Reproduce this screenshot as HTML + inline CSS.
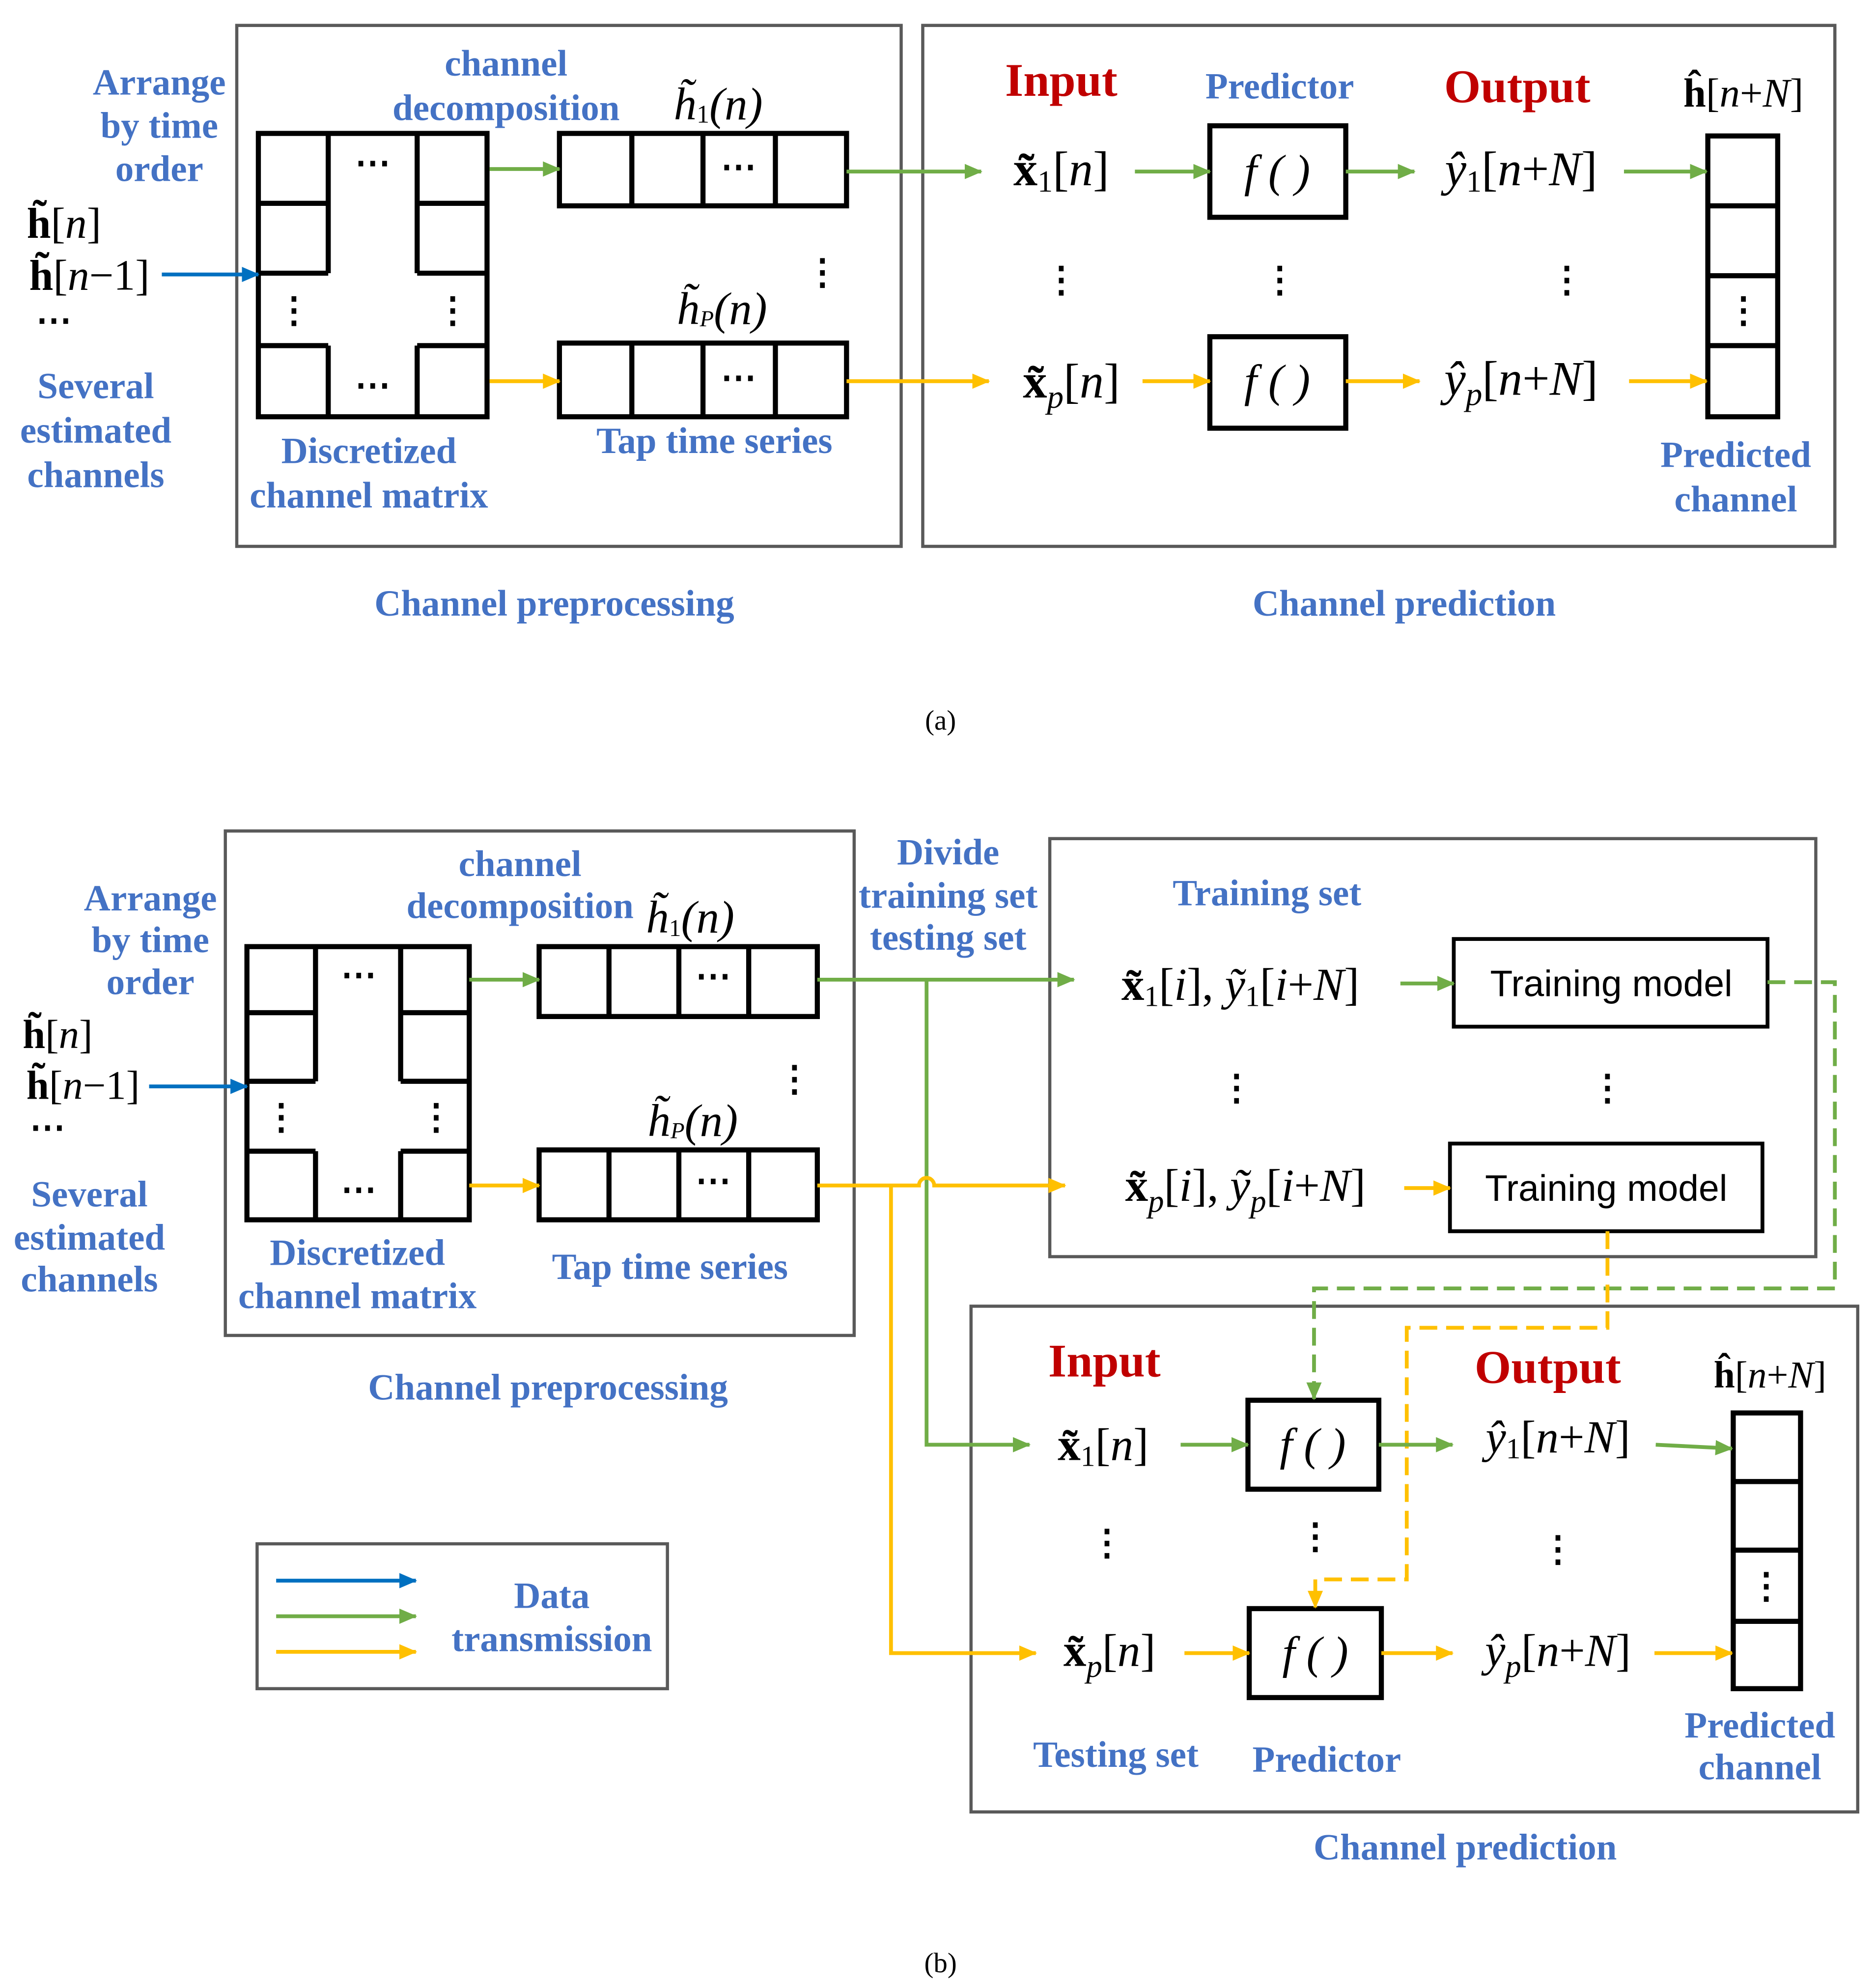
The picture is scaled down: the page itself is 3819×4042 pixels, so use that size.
<!DOCTYPE html>
<html><head><meta charset="utf-8">
<style>
html,body{margin:0;padding:0;background:#fff;}
svg{display:block;}
.b{font-family:"Liberation Serif",serif;font-weight:bold;fill:#4472C4;font-size:29px;}
.r{font-family:"Liberation Serif",serif;font-weight:bold;fill:#C00000;font-size:37px;}
.m{font-family:"Liberation Serif",serif;font-style:italic;fill:#000;font-size:36px;}
.n{font-family:"Liberation Serif",serif;fill:#000;}
.k{font-family:"Liberation Serif",serif;font-weight:bold;fill:#000;}
.t{font-family:"Liberation Sans",sans-serif;fill:#000;font-size:29px;}
</style></head><body>
<svg width="3819" height="4042" viewBox="0 0 1476 1563" xmlns="http://www.w3.org/2000/svg">
<defs>
<marker id="ag" markerWidth="14" markerHeight="12" refX="13" refY="6" orient="auto" markerUnits="userSpaceOnUse"><path d="M0,0 L14,6 L0,12 z" fill="#70AD47"/></marker>
<marker id="ay" markerWidth="14" markerHeight="12" refX="13" refY="6" orient="auto" markerUnits="userSpaceOnUse"><path d="M0,0 L14,6 L0,12 z" fill="#FFC000"/></marker>
<marker id="ab" markerWidth="14" markerHeight="12" refX="13" refY="6" orient="auto" markerUnits="userSpaceOnUse"><path d="M0,0 L14,6 L0,12 z" fill="#0070C0"/></marker>
</defs>
<g text-anchor="middle" dominant-baseline="central">
<!-- ================= (a) ================= -->
<rect x="186" y="20" width="523" height="410" fill="none" stroke="#595959" stroke-width="2.5"/>
<rect x="726" y="20" width="718" height="410" fill="none" stroke="#595959" stroke-width="2.5"/>
<g stroke="#000" stroke-width="4" fill="none">
<rect x="203" y="105" width="180" height="223"/>
<path d="M258 105V215M328 105V215M258 272V328M328 272V328M203 160H258M328 160H383M203 215H258M328 215H383M203 272H258M328 272H383"/>
<rect x="440" y="105" width="226" height="57"/>
<path d="M497 105V162M553 105V162M610 105V162"/>
<rect x="440" y="270" width="226" height="58"/>
<path d="M497 270V328M553 270V328M610 270V328"/>
<rect x="952" y="99" width="107" height="72"/>
<rect x="952" y="265" width="107" height="72"/>
<rect x="1344" y="107" width="55" height="221"/>
<path d="M1344 162H1399M1344 217H1399M1344 272H1399"/>
</g>
<g class="k" font-size="28">
<text x="293" y="128">⋯</text><text x="293" y="303">⋯</text>
<text x="581" y="131">⋯</text><text x="581" y="297">⋯</text>
<text x="231" y="244">⋮</text><text x="356" y="244">⋮</text>
<text x="647" y="214">⋮</text><text x="1372" y="244">⋮</text>
<text x="835" y="220">⋮</text><text x="1007" y="220">⋮</text><text x="1233" y="220">⋮</text>
<text x="42" y="252">⋯</text>
</g>
<text class="b" x="398" y="50">channel</text>
<text class="b" x="398" y="85">decomposition</text>
<text class="m" x="565" y="82" font-size="32">h̃<tspan font-size="20" font-style="normal" dy="8">1</tspan><tspan dy="-8">(n)</tspan></text>
<text class="m" x="568" y="243" font-size="28">h̃<tspan font-size="18" dy="8">P</tspan><tspan dy="-8">(n)</tspan></text>
<text class="b" x="562" y="347">Tap time series</text>
<text class="b" x="290" y="355">Discretized</text>
<text class="b" x="290" y="390">channel matrix</text>
<text class="b" x="125" y="65">Arrange</text>
<text class="b" x="125" y="99">by time</text>
<text class="b" x="125" y="133">order</text>
<text class="n" x="50" y="176" font-size="34"><tspan font-weight="bold">h̃</tspan>[<tspan font-style="italic">n</tspan>]</text>
<text class="n" x="70" y="217" font-size="34"><tspan font-weight="bold">h̃</tspan>[<tspan font-style="italic">n</tspan>−1]</text>
<text class="b" x="75" y="304">Several</text>
<text class="b" x="75" y="339">estimated</text>
<text class="b" x="75" y="374">channels</text>
<line x1="127" y1="216" x2="203" y2="216" stroke="#0070C0" stroke-width="3" marker-end="url(#ab)"/>
<g stroke-width="3" fill="none">
<line x1="385" y1="133" x2="440" y2="133" stroke="#70AD47" marker-end="url(#ag)"/>
<line x1="385" y1="300" x2="440" y2="300" stroke="#FFC000" marker-end="url(#ay)"/>
<line x1="666" y1="135" x2="772" y2="135" stroke="#70AD47" marker-end="url(#ag)"/>
<line x1="666" y1="300" x2="778" y2="300" stroke="#FFC000" marker-end="url(#ay)"/>
<line x1="893" y1="135" x2="952" y2="135" stroke="#70AD47" marker-end="url(#ag)"/>
<line x1="1059" y1="135" x2="1113" y2="135" stroke="#70AD47" marker-end="url(#ag)"/>
<line x1="1278" y1="135" x2="1343" y2="135" stroke="#70AD47" marker-end="url(#ag)"/>
<line x1="899" y1="300" x2="952" y2="300" stroke="#FFC000" marker-end="url(#ay)"/>
<line x1="1059" y1="300" x2="1117" y2="300" stroke="#FFC000" marker-end="url(#ay)"/>
<line x1="1282" y1="300" x2="1343" y2="300" stroke="#FFC000" marker-end="url(#ay)"/>
</g>
<text class="r" x="835" y="63">Input</text>
<text class="b" x="1007" y="68" font-size="37">Predictor</text>
<text class="r" x="1194" y="68">Output</text>
<text class="n" x="1372" y="73" font-size="32"><tspan font-weight="bold">ĥ</tspan>[<tspan font-style="italic">n</tspan>+<tspan font-style="italic">N</tspan>]</text>
<text class="n" x="835" y="133" font-size="38"><tspan font-weight="bold">x̃</tspan><tspan font-size="24" dy="10">1</tspan><tspan dy="-10">[</tspan><tspan font-style="italic">n</tspan>]</text>
<text class="n" x="843" y="300" font-size="38"><tspan font-weight="bold">x̃</tspan><tspan font-size="26" font-style="italic" dy="12">p</tspan><tspan dy="-12">[</tspan><tspan font-style="italic">n</tspan>]</text>
<text class="m" x="1005" y="135" font-size="44">f ( )</text>
<text class="m" x="1005" y="300" font-size="44">f ( )</text>
<text class="n" x="1197" y="133" font-size="38"><tspan font-style="italic">ŷ</tspan><tspan font-size="24" dy="10">1</tspan><tspan dy="-10">[</tspan><tspan font-style="italic">n</tspan>+<tspan font-style="italic">N</tspan>]</text>
<text class="n" x="1197" y="298" font-size="38"><tspan font-style="italic">ŷ</tspan><tspan font-size="26" font-style="italic" dy="12">p</tspan><tspan dy="-12">[</tspan><tspan font-style="italic">n</tspan>+<tspan font-style="italic">N</tspan>]</text>
<text class="b" x="1366" y="358">Predicted</text>
<text class="b" x="1366" y="393">channel</text>
<text class="b" x="436" y="475">Channel preprocessing</text>
<text class="b" x="1105" y="475">Channel prediction</text>
<text class="n" x="740" y="567" font-size="22">(a)</text>

<!-- ================= (b) ================= -->
<rect x="177" y="654" width="495" height="397" fill="none" stroke="#595959" stroke-width="2.5"/>
<rect x="826" y="660" width="603" height="329" fill="none" stroke="#595959" stroke-width="2.5"/>
<rect x="764" y="1028" width="698" height="398" fill="none" stroke="#595959" stroke-width="2.5"/>
<rect x="202" y="1215" width="323" height="114" fill="none" stroke="#595959" stroke-width="2.5"/>
<g stroke="#000" stroke-width="4" fill="none">
<rect x="194" y="745" width="175" height="215"/>
<path d="M248 745V851M315 745V851M248 906V960M315 906V960M194 797H248M315 797H369M194 851H248M315 851H369M194 906H248M315 906H369"/>
<rect x="424" y="745" width="219" height="55"/>
<path d="M479 745V800M534 745V800M589 745V800"/>
<rect x="424" y="905" width="219" height="55"/>
<path d="M479 905V960M534 905V960M589 905V960"/>
<rect x="1144" y="739" width="247" height="69" stroke-width="3"/>
<rect x="1141" y="900" width="246" height="69" stroke-width="3"/>
<rect x="982" y="1102" width="103" height="70"/>
<rect x="983" y="1266" width="104" height="70"/>
<rect x="1364" y="1112" width="53" height="217"/>
<path d="M1364 1166H1417M1364 1220H1417M1364 1276H1417"/>
</g>
<g class="k" font-size="28">
<text x="282" y="767">⋯</text><text x="282" y="936">⋯</text>
<text x="561" y="768">⋯</text><text x="561" y="929">⋯</text>
<text x="221" y="879">⋮</text><text x="343" y="879">⋮</text>
<text x="625" y="849">⋮</text><text x="1390" y="1248">⋮</text>
<text x="973" y="856">⋮</text><text x="1265" y="856">⋮</text>
<text x="871" y="1214">⋮</text><text x="1035" y="1209">⋮</text><text x="1226" y="1219">⋮</text>
<text x="37" y="887">⋯</text>
</g>
<text class="b" x="409" y="680">channel</text>
<text class="b" x="409" y="713">decomposition</text>
<text class="m" x="543" y="722" font-size="30">h̃<tspan font-size="19" font-style="normal" dy="8">1</tspan><tspan dy="-8">(n)</tspan></text>
<text class="m" x="545" y="882" font-size="27">h̃<tspan font-size="18" dy="8">P</tspan><tspan dy="-8">(n)</tspan></text>
<text class="b" x="527" y="997">Tap time series</text>
<text class="b" x="281" y="986">Discretized</text>
<text class="b" x="281" y="1020">channel matrix</text>
<text class="b" x="118" y="707">Arrange</text>
<text class="b" x="118" y="740">by time</text>
<text class="b" x="118" y="773">order</text>
<text class="n" x="45" y="814" font-size="32"><tspan font-weight="bold">h̃</tspan>[<tspan font-style="italic">n</tspan>]</text>
<text class="n" x="65" y="854" font-size="32"><tspan font-weight="bold">h̃</tspan>[<tspan font-style="italic">n</tspan>−1]</text>
<text class="b" x="70" y="940">Several</text>
<text class="b" x="70" y="974">estimated</text>
<text class="b" x="70" y="1007">channels</text>
<line x1="117" y1="855" x2="194" y2="855" stroke="#0070C0" stroke-width="3" marker-end="url(#ab)"/>
<text class="b" x="746" y="671">Divide</text>
<text class="b" x="746" y="705">training set</text>
<text class="b" x="746" y="738">testing set</text>
<text class="b" x="997" y="703" font-size="37">Training set</text>
<text class="n" x="976" y="775" font-size="36"><tspan font-weight="bold">x̃</tspan><tspan font-size="23" dy="9">1</tspan><tspan dy="-9">[</tspan><tspan font-style="italic">i</tspan>], <tspan font-style="italic">ỹ</tspan><tspan font-size="23" dy="9">1</tspan><tspan dy="-9">[</tspan><tspan font-style="italic">i</tspan>+<tspan font-style="italic">N</tspan>]</text>
<text class="n" x="980" y="933" font-size="36"><tspan font-weight="bold">x̃</tspan><tspan font-size="25" font-style="italic" dy="12">p</tspan><tspan dy="-12">[</tspan><tspan font-style="italic">i</tspan>], <tspan font-style="italic">ỹ</tspan><tspan font-size="25" font-style="italic" dy="12">p</tspan><tspan dy="-12">[</tspan><tspan font-style="italic">i</tspan>+<tspan font-style="italic">N</tspan>]</text>
<text class="t" x="1268" y="774">Training model</text>
<text class="t" x="1264" y="935">Training model</text>
<g stroke-width="3" fill="none">
<line x1="369" y1="771" x2="424" y2="771" stroke="#70AD47" marker-end="url(#ag)"/>
<line x1="369" y1="933" x2="424" y2="933" stroke="#FFC000" marker-end="url(#ay)"/>
<line x1="643" y1="771" x2="845" y2="771" stroke="#70AD47" marker-end="url(#ag)"/>
<polyline points="729,771 729,1137 810,1137" stroke="#70AD47" marker-end="url(#ag)"/>
<path d="M643 933H723 A6 6 0 0 1 735 933 H838" stroke="#FFC000" marker-end="url(#ay)"/>
<polyline points="701,933 701,1301 815,1301" stroke="#FFC000" marker-end="url(#ay)"/>
<line x1="1102" y1="774" x2="1144" y2="774" stroke="#70AD47" marker-end="url(#ag)"/>
<line x1="1105" y1="935" x2="1141" y2="935" stroke="#FFC000" marker-end="url(#ay)"/>
<polyline points="1391,773 1444,773 1444,1014 1034,1014 1034,1101" stroke="#70AD47" stroke-dasharray="14,7" marker-end="url(#ag)"/>
<polyline points="1265,969 1265,1045 1107,1045 1107,1243 1035,1243 1035,1265" stroke="#FFC000" stroke-dasharray="14,7" marker-end="url(#ay)"/>
<line x1="929" y1="1137" x2="982" y2="1137" stroke="#70AD47" marker-end="url(#ag)"/>
<line x1="1085" y1="1137" x2="1143" y2="1137" stroke="#70AD47" marker-end="url(#ag)"/>
<line x1="1303" y1="1137" x2="1363" y2="1140" stroke="#70AD47" marker-end="url(#ag)"/>
<line x1="932" y1="1301" x2="983" y2="1301" stroke="#FFC000" marker-end="url(#ay)"/>
<line x1="1087" y1="1301" x2="1143" y2="1301" stroke="#FFC000" marker-end="url(#ay)"/>
<line x1="1302" y1="1301" x2="1363" y2="1301" stroke="#FFC000" marker-end="url(#ay)"/>
<line x1="217" y1="1244" x2="327" y2="1244" stroke="#0070C0" marker-end="url(#ab)"/>
<line x1="217" y1="1272" x2="327" y2="1272" stroke="#70AD47" marker-end="url(#ag)"/>
<line x1="217" y1="1300" x2="327" y2="1300" stroke="#FFC000" marker-end="url(#ay)"/>
</g>
<text class="r" x="869" y="1071">Input</text>
<text class="r" x="1218" y="1076">Output</text>
<text class="n" x="1393" y="1082" font-size="30"><tspan font-weight="bold">ĥ</tspan>[<tspan font-style="italic">n</tspan>+<tspan font-style="italic">N</tspan>]</text>
<text class="n" x="868" y="1137" font-size="36"><tspan font-weight="bold">x̃</tspan><tspan font-size="23" dy="9">1</tspan><tspan dy="-9">[</tspan><tspan font-style="italic">n</tspan>]</text>
<text class="n" x="873" y="1299" font-size="36"><tspan font-weight="bold">x̃</tspan><tspan font-size="25" font-style="italic" dy="12">p</tspan><tspan dy="-12">[</tspan><tspan font-style="italic">n</tspan>]</text>
<text class="m" x="1033" y="1137" font-size="42">f ( )</text>
<text class="m" x="1035" y="1301" font-size="42">f ( )</text>
<text class="n" x="1226" y="1131" font-size="36"><tspan font-style="italic">ŷ</tspan><tspan font-size="23" dy="9">1</tspan><tspan dy="-9">[</tspan><tspan font-style="italic">n</tspan>+<tspan font-style="italic">N</tspan>]</text>
<text class="n" x="1226" y="1299" font-size="36"><tspan font-style="italic">ŷ</tspan><tspan font-size="25" font-style="italic" dy="12">p</tspan><tspan dy="-12">[</tspan><tspan font-style="italic">n</tspan>+<tspan font-style="italic">N</tspan>]</text>
<text class="b" x="878" y="1381" font-size="36">Testing set</text>
<text class="b" x="1044" y="1385" font-size="36">Predictor</text>
<text class="b" x="1385" y="1358">Predicted</text>
<text class="b" x="1385" y="1391">channel</text>
<text class="b" x="1153" y="1454">Channel prediction</text>
<text class="b" x="431" y="1092">Channel preprocessing</text>
<text class="b" x="434" y="1256" font-size="28">Data</text>
<text class="b" x="434" y="1290" font-size="28">transmission</text>
<text class="n" x="740" y="1545" font-size="22">(b)</text>
</g>
</svg>
</body></html>
